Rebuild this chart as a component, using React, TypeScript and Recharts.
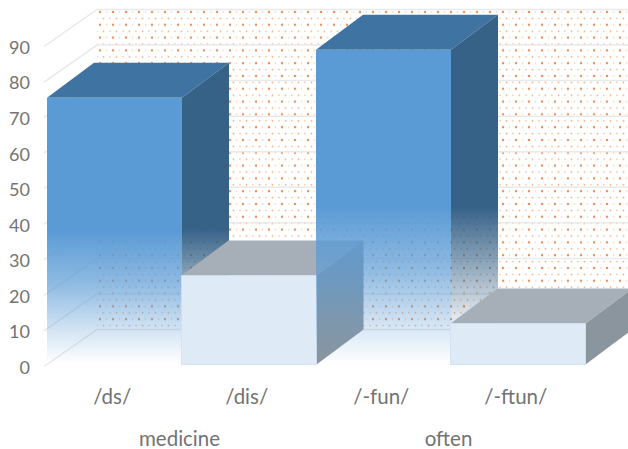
import React from 'react';
import { BarChart, Bar, XAxis, YAxis, ReferenceArea, ReferenceLine } from 'recharts';

const sounds = ['/ds/', '/dis/', '/-fun/', '/-ftun/'];
const words = ['medicine', 'medicine', 'often', 'often'];
const percents = [75, 25, 88.5, 11.5];
const yTicks = [0, 10, 20, 30, 40, 50, 60, 70, 80, 90];

const chartData = sounds.map((sound, i) => ({ sound, word: words[i], percent: percents[i] }));

// offset of the receding edges of the fake 3D box
const DEPTH_X = 47;
const DEPTH_Y = -35;
const WALL_X = 50;
const WALL_RIGHT = 628;
const TEXT_FONT = 'Lato, "Open Sans", sans-serif';

const pts = (list: number[][]) => list.map((p) => p.join(',')).join(' ');

// back wall and floor, drawn from the rectangle the scales give for 0..90
const WallShape = (props: any) => {
  const { x, y, width, height } = props;
  const left = x + WALL_X;
  const base = y + height;
  return (
    <g>
      <rect x={left} y={y + DEPTH_Y} width={WALL_RIGHT - left} height={height} fill="url(#wallDots)" />
      <polygon
        points={pts([[x, base], [left, base + DEPTH_Y], [WALL_RIGHT, base + DEPTH_Y], [x + width, base]])}
        fill="#ffffff"
      />
    </g>
  );
};

// one gridline: up the side wall, then along the back
const WallLine = (props: any) => {
  const { x1, y1 } = props;
  const left = x1 + WALL_X;
  return (
    <polyline
      points={pts([[x1 - 3, y1 + 2], [left, y1 + DEPTH_Y], [WALL_RIGHT, y1 + DEPTH_Y]])}
      fill="none"
      stroke="#e9e9e9"
      strokeWidth={1.5}
    />
  );
};

const Box3D = (props: any) => {
  const { x, y, width, height, index } = props;
  const right = x + width;
  const base = y + height;
  const isFaded = index % 2 === 0;
  const top = pts([[x, y], [x + DEPTH_X, y + DEPTH_Y], [right + DEPTH_X, y + DEPTH_Y], [right, y]]);
  const side = pts([[right, y], [right + DEPTH_X, y + DEPTH_Y], [right + DEPTH_X, base + DEPTH_Y], [right, base]]);
  if (isFaded) {
    return (
      <g>
        <polygon points={top} fill="#3f73a2" />
        <polygon points={side} fill="url(#blueSide)" />
        <rect x={x} y={y} width={width} height={height} fill="url(#blueFront)" />
      </g>
    );
  }
  return (
    <g>
      <polygon points={top} fill="#a6afb8" />
      <polygon points={side} fill="#8b959e" />
      <rect x={x} y={y} width={width} height={height} fill="#deeaf6" stroke="#d0e0f0" strokeWidth={0.8} />
    </g>
  );
};

export default function App() {
  return (
    <div style={{ position: 'absolute', left: 0, top: 0 }}>
      <BarChart
        width={628}
        height={449}
        data={chartData}
        barCategoryGap={0}
        margin={{ top: 44.5, right: 43, bottom: 0, left: 0 }}
      >
        <defs>
          <pattern id="wallDots" width="13" height="12.8" patternUnits="userSpaceOnUse" x="97" y="9">
            <rect width="13" height="12.8" fill="#ffffff" />
            <circle cx="3" cy="3" r="1.2" fill="#e98f58" />
            <circle cx="9.5" cy="3" r="0.8" fill="#f5cdb2" />
            <circle cx="0" cy="9.4" r="0.8" fill="#f1b896" />
            <circle cx="13" cy="9.4" r="0.8" fill="#f1b896" />
            <circle cx="6.5" cy="9.4" r="0.9" fill="#eeaa80" />
          </pattern>
          <linearGradient id="blueFront" x1="0" y1="0" x2="0" y2="1">
            <stop offset="0.5" stopColor="#5b9bd5" stopOpacity={1} />
            <stop offset="0.7" stopColor="#5b9bd5" stopOpacity={0.68} />
            <stop offset="0.88" stopColor="#5b9bd5" stopOpacity={0.25} />
            <stop offset="1" stopColor="#5b9bd5" stopOpacity={0} />
          </linearGradient>
          <linearGradient id="blueSide" x1="0" y1="0" x2="0" y2="1">
            <stop offset="0.55" stopColor="#366288" stopOpacity={1} />
            <stop offset="0.92" stopColor="#366288" stopOpacity={0} />
          </linearGradient>
        </defs>
        <XAxis
          dataKey="sound"
          axisLine={false}
          tickLine={false}
          tickSize={0}
          tickMargin={25}
          height={44}
          interval={0}
          tick={{ fill: '#737373', fontSize: 20.5, fontFamily: TEXT_FONT, dx: -2 }}
        />
        <XAxis
          xAxisId="word"
          dataKey="word"
          allowDuplicatedCategory={false}
          axisLine={false}
          tickLine={false}
          tickSize={0}
          tickMargin={23}
          height={40.5}
          interval={0}
          tick={{ fill: '#737373', fontSize: 20.5, fontFamily: TEXT_FONT, dx: -2 }}
        />
        <YAxis
          domain={[0, 90]}
          ticks={yTicks}
          interval={0}
          width={47}
          axisLine={false}
          tickLine={false}
          tickSize={0}
          tickMargin={17}
          tick={{ fill: '#737373', fontSize: 18, fontFamily: TEXT_FONT, dy: 3 }}
        />
        <ReferenceArea y1={0} y2={90} shape={WallShape} ifOverflow="visible" zIndex={-20} />
        {yTicks.map((t) => (
          <ReferenceLine key={t} y={t} shape={WallLine} ifOverflow="visible" zIndex={-10} />
        ))}
        <Bar dataKey="percent" shape={Box3D} isAnimationActive={false} />
      </BarChart>
    </div>
  );
}
